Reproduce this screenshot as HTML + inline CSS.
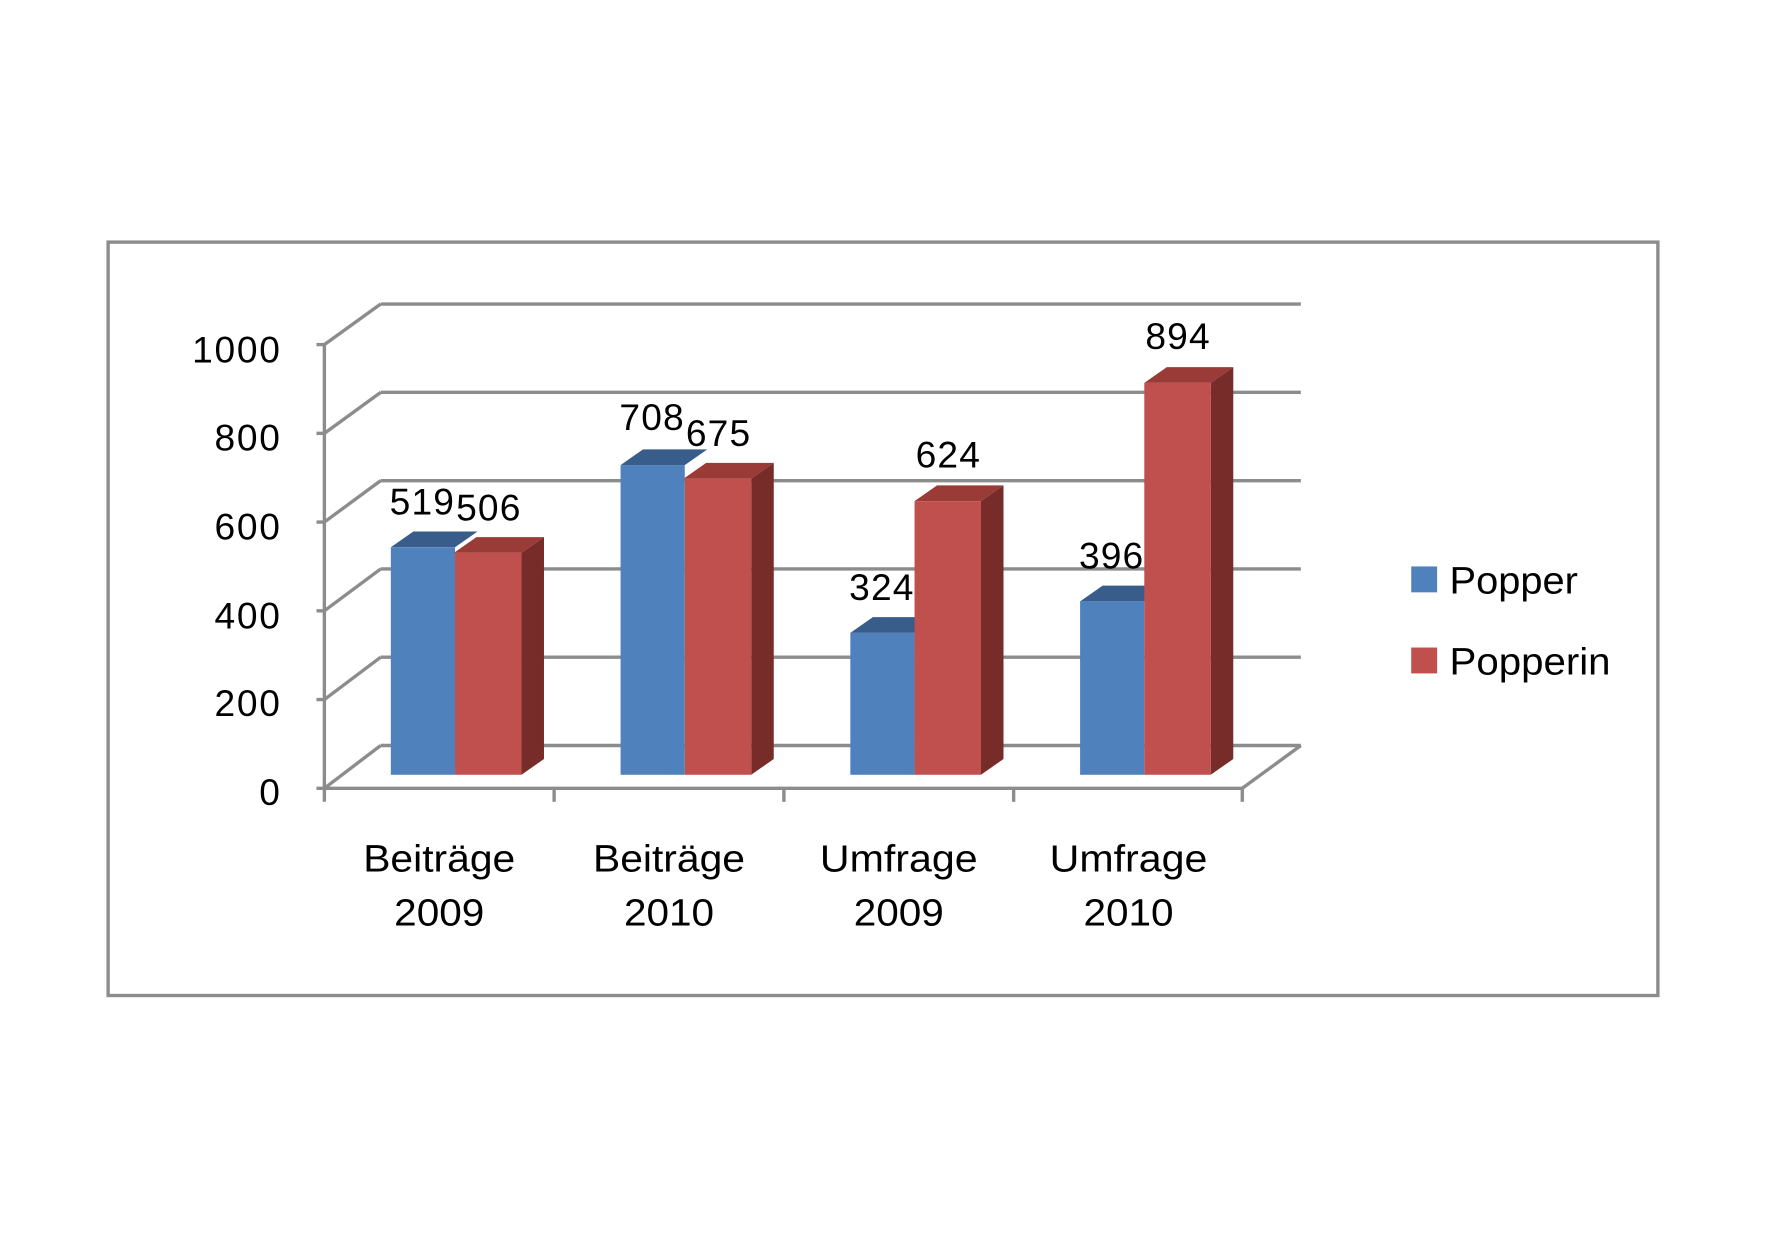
<!DOCTYPE html>
<html><head><meta charset="utf-8"><style>html,body{margin:0;padding:0;background:#fff}svg{display:block}</style></head><body>
<svg width="1766" height="1241" viewBox="0 0 1568 1102" preserveAspectRatio="none" xmlns="http://www.w3.org/2000/svg" font-family="Liberation Sans, sans-serif">
<rect x="96" y="215" width="1376" height="669" fill="#fff" stroke="#8c8c8c" stroke-width="3"/>
<g stroke="#8c8c8c" stroke-width="3" fill="none">
<line x1="338" y1="270" x2="1155" y2="270"/>
<line x1="338" y1="348.4" x2="1155" y2="348.4"/>
<line x1="338" y1="426.8" x2="1155" y2="426.8"/>
<line x1="338" y1="505.2" x2="1155" y2="505.2"/>
<line x1="338" y1="583.6" x2="1155" y2="583.6"/>
<line x1="338" y1="662" x2="1155" y2="662"/>
<line x1="288" y1="306" x2="338" y2="270"/>
<line x1="288" y1="384.8" x2="338" y2="348.4"/>
<line x1="288" y1="463.6" x2="338" y2="426.8"/>
<line x1="288" y1="542.4" x2="338" y2="505.2"/>
<line x1="288" y1="621.2" x2="338" y2="583.6"/>
<line x1="288" y1="700" x2="338" y2="662"/>
<line x1="1103" y1="700" x2="1155" y2="662"/>
<line x1="288" y1="700" x2="1103" y2="700"/>
<line x1="288" y1="306" x2="288" y2="712"/>
<line x1="492" y1="700" x2="492" y2="712"/>
<line x1="696" y1="700" x2="696" y2="712"/>
<line x1="900" y1="700" x2="900" y2="712"/>
<line x1="1103" y1="700" x2="1103" y2="712"/>
<line x1="281" y1="306" x2="288" y2="306"/>
<line x1="281" y1="384.8" x2="288" y2="384.8"/>
<line x1="281" y1="463.6" x2="288" y2="463.6"/>
<line x1="281" y1="542.4" x2="288" y2="542.4"/>
<line x1="281" y1="621.2" x2="288" y2="621.2"/>
<line x1="281" y1="700" x2="288" y2="700"/>
</g>
<g font-size="33" fill="#000" text-anchor="end" letter-spacing="1.5">
<text x="250" y="322">1000</text><text x="250" y="400">800</text><text x="250" y="479">600</text>
<text x="250" y="558">400</text><text x="250" y="636">200</text><text x="250" y="715">0</text>
</g>
<g>
<polygon points="347,486 367,472 424,472 404,486" fill="#385D8A"/>
<rect x="347" y="486" width="57" height="202" fill="#4F81BD"/>
<polygon points="403,491 423,477 483,477 463,491" fill="#9B3B38"/>
<polygon points="463,491 483,477 483,674 463,688" fill="#772C2A"/>
<rect x="404" y="491" width="59" height="197" fill="#C0504D"/>
<polygon points="551,413 571,399 628,399 608,413" fill="#385D8A"/>
<rect x="551" y="413" width="57" height="275" fill="#4F81BD"/>
<polygon points="607,425 627,411 687,411 667,425" fill="#9B3B38"/>
<polygon points="667,425 687,411 687,674 667,688" fill="#772C2A"/>
<rect x="608" y="425" width="59" height="263" fill="#C0504D"/>
<polygon points="755,562 775,548 832,548 812,562" fill="#385D8A"/>
<rect x="755" y="562" width="57" height="126" fill="#4F81BD"/>
<polygon points="812,445 832,431 891,431 871,445" fill="#9B3B38"/>
<polygon points="871,445 891,431 891,674 871,688" fill="#772C2A"/>
<rect x="812" y="445" width="59" height="243" fill="#C0504D"/>
<polygon points="959,534 979,520 1036,520 1016,534" fill="#385D8A"/>
<rect x="959" y="534" width="57" height="154" fill="#4F81BD"/>
<polygon points="1016,340 1036,326 1095,326 1075,340" fill="#9B3B38"/>
<polygon points="1075,340 1095,326 1095,674 1075,688" fill="#772C2A"/>
<rect x="1016" y="340" width="59" height="348" fill="#C0504D"/>
</g>
<g font-size="33" fill="#000" text-anchor="middle" letter-spacing="1">
<text x="375" y="457">519</text><text x="434" y="462">506</text>
<text x="579" y="382">708</text><text x="638" y="396">675</text>
<text x="783" y="533">324</text><text x="842" y="415">624</text>
<text x="987" y="505">396</text><text x="1046" y="310">894</text>
</g>
<g font-size="34" fill="#000" text-anchor="middle">
<text x="390" y="774" textLength="135" lengthAdjust="spacingAndGlyphs">Beiträge</text><text x="390" y="822" textLength="80" lengthAdjust="spacingAndGlyphs">2009</text>
<text x="594" y="774" textLength="135" lengthAdjust="spacingAndGlyphs">Beiträge</text><text x="594" y="822" textLength="80" lengthAdjust="spacingAndGlyphs">2010</text>
<text x="798" y="774" textLength="140" lengthAdjust="spacingAndGlyphs">Umfrage</text><text x="798" y="822" textLength="80" lengthAdjust="spacingAndGlyphs">2009</text>
<text x="1002" y="774" textLength="140" lengthAdjust="spacingAndGlyphs">Umfrage</text><text x="1002" y="822" textLength="80" lengthAdjust="spacingAndGlyphs">2010</text>
</g>
<rect x="1253" y="503" width="23" height="23" fill="#4F81BD"/>
<rect x="1253" y="575" width="23" height="23" fill="#C0504D"/>
<g font-size="34" fill="#000">
<text x="1287" y="527" textLength="114" lengthAdjust="spacingAndGlyphs">Popper</text>
<text x="1287" y="599" textLength="143" lengthAdjust="spacingAndGlyphs">Popperin</text>
</g>
</svg>
</body></html>
